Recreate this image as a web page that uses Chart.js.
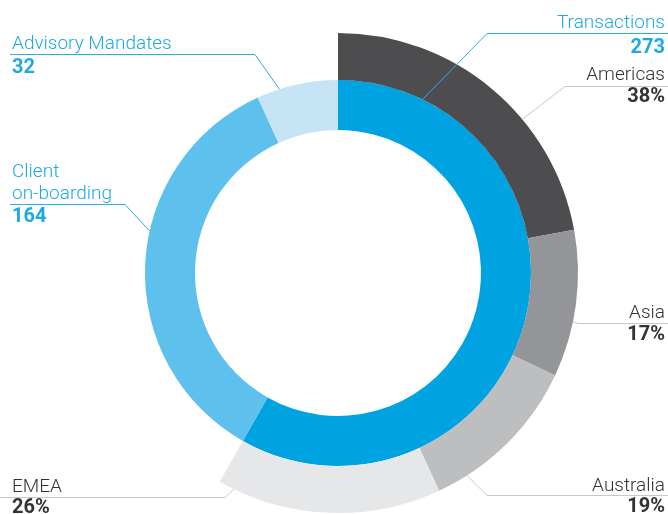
<!DOCTYPE html>
<html>
<head>
<meta charset="utf-8">
<script src="https://cdn.jsdelivr.net/npm/chart.js@4/dist/chart.umd.min.js"></script>
<style>
  body { margin: 0; background: #fff; }
  #wrap { width: 668px; height: 514px; position: relative; }
</style>
</head>
<body>
<div id="wrap"><canvas id="donut"></canvas></div>
<script>
// mandates by type (inner ring)
const mandateTypes = ['Transactions', 'Client on-boarding', 'Advisory Mandates'];
const mandateCounts = [273, 164, 32];
const mandateColors = ['#00a3e1', '#5ec1ed', '#c7e4f7'];

// regional split of transactions, in % (outer ring)
const regions = ['Americas', 'Asia', 'Australia', 'EMEA'];
const regionShares = [38, 17, 19, 26];
const regionColors = ['#4d4d4f', '#939598', '#bdbec0', '#e6e7e8'];

const total = mandateCounts.reduce((a, b) => a + b, 0);
// outer ring only covers the Transactions part, rest left empty
const regionValues = regionShares.map(p => p / 100 * mandateCounts[0]);
regionValues.push(total - mandateCounts[0]);

const CYAN = '#1ca9e6';
const DARK = '#333333';
const LIGHT_FONT = '300 19px Roboto, "Liberation Sans", sans-serif';
const BOLD_FONT = 'bold 20px Roboto, "Liberation Sans", sans-serif';

// callouts: ds = dataset index, i = slice, f = where on the slice the leader starts
const callouts = [
  { ds: 1, i: 0, f: 0.124, elbow: [487, 33], end: 668, color: CYAN, lineColor: '#29aee6', align: 'right', x: 665,
    lines: [[mandateTypes[0], 28, false], [String(mandateCounts[0]), 53, true]] },
  { ds: 0, i: 0, f: 0.63, elbow: [565, 86], end: 668, color: DARK, lineColor: '#c8c8c8', align: 'right', x: 665,
    lines: [[regions[0], 80, false], [regionShares[0] + '%', 102, true]] },
  { ds: 0, i: 1, f: 0.62, elbow: [578, 323], end: 668, color: DARK, lineColor: '#c8c8c8', align: 'right', x: 665,
    lines: [[regions[1], 318, false], [regionShares[1] + '%', 340, true]] },
  { ds: 0, i: 2, f: 0.81, elbow: [487, 495], end: 668, color: DARK, lineColor: '#c8c8c8', align: 'right', x: 665,
    lines: [[regions[2], 491, false], [regionShares[2] + '%', 512, true]] },
  { ds: 0, i: 3, f: 0.93, elbow: [225, 497], end: 0, color: DARK, lineColor: '#c8c8c8', align: 'left', x: 12,
    lines: [[regions[3], 492, false], [regionShares[3] + '%', 513, true]] },
  { ds: 1, i: 2, f: 0.28, elbow: [255, 54], end: 10, color: CYAN, lineColor: '#29aee6', align: 'left', x: 12,
    lines: [[mandateTypes[2], 49, false], [String(mandateCounts[2]), 73, true]] },
  { ds: 1, i: 1, f: 0.58, elbow: [125, 204], end: 10, color: CYAN, lineColor: '#29aee6', align: 'left', x: 12,
    lines: [['Client', 177, false], ['on-boarding', 199, false], [String(mandateCounts[1]), 222, true]] }
];

const calloutPlugin = {
  id: 'callouts',
  afterDraw(chart) {
    const ctx = chart.ctx;
    ctx.save();
    callouts.forEach(c => {
      const arc = chart.getDatasetMeta(c.ds).data[c.i];
      const a = arc.startAngle + c.f * (arc.endAngle - arc.startAngle);
      const px = arc.x + arc.outerRadius * Math.cos(a);
      const py = arc.y + arc.outerRadius * Math.sin(a);
      ctx.beginPath();
      ctx.strokeStyle = c.lineColor;
      ctx.lineWidth = 1;
      ctx.moveTo(px, py);
      ctx.lineTo(c.elbow[0], c.elbow[1] + 0.5);
      ctx.lineTo(c.end, c.elbow[1] + 0.5);
      ctx.stroke();
      ctx.fillStyle = c.color;
      ctx.textAlign = c.align;
      ctx.textBaseline = 'alphabetic';
      c.lines.forEach(l => {
        ctx.font = l[2] ? BOLD_FONT : LIGHT_FONT;
        ctx.fillText(l[0], c.x, l[1]);
      });
    });
    ctx.restore();
  }
};

new Chart(document.getElementById('donut'), {
  type: 'doughnut',
  data: {
    labels: regions.concat(['']),
    datasets: [
      {
        data: regionValues,
        backgroundColor: regionColors.concat(['rgba(0,0,0,0)']),
        borderWidth: 0,
        weight: 47
      },
      {
        data: mandateCounts,
        backgroundColor: mandateColors,
        borderWidth: 0,
        weight: 50
      }
    ]
  },
  options: {
    responsive: true,
    maintainAspectRatio: false,
    animation: false,
    events: [],
    cutout: 143,
    layout: { padding: { left: 98, right: 90, top: 33, bottom: 1 } },
    plugins: {
      legend: { display: false },
      tooltip: { enabled: false }
    }
  },
  plugins: [calloutPlugin]
});
</script>
</body>
</html>
